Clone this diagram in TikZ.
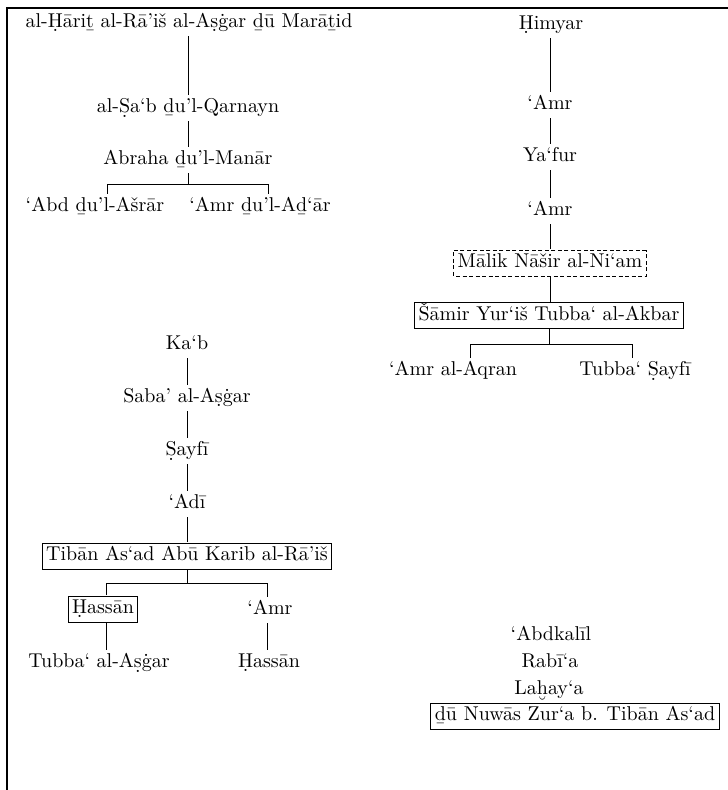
\documentclass[tikz,border=0pt]{standalone}
\newcommand{\macb}[1]{\oalign{#1\crcr\hidewidth\vbox to .2ex{\hbox{¯}\vss}\hidewidth}}
\newcommand{\dotb}[1]{\oalign{#1\crcr\hidewidth.\hidewidth}}
\newcommand{\breb}[1]{\oalign{#1\crcr\hidewidth\vbox to .2ex{\hbox{˘}\vss}\hidewidth}}
\tikzset{
  nm/.style={inner xsep=2pt, inner ysep=1.75pt, text height=7pt, text depth=2.5pt,
             font=\fontsize{10}{12}\selectfont},
  bx/.style={nm, draw, line width=0.9pt},
  dbx/.style={nm, draw, line width=0.9pt, dash pattern=on 4pt off 2.5pt},
  ln/.style={line width=1pt}
}
\begin{document}
\begin{tikzpicture}[x=0.5pt, y=-0.5pt, scale=2, transform shape]
\useasboundingbox (0,0) rectangle (728,790);
\draw[line width=1.5pt] (7,790) -- (7,8) -- (728,8);

% top left
\node[nm] (n1) at (189,23) {al-\dotb{H}āri\macb{t} al-Rā’iš al-A\dotb{s}ġar \macb{d}ū Marā\macb{t}id};
\node[nm] (n2) at (188,108) {al-\dotb{S}a‘b \macb{d}u’l-Qarnayn};
\node[nm] (n3) at (188,160) {Abraha \macb{d}u’l-Manār};
\node[nm] (n4) at (95,207) {‘Abd \macb{d}u’l-Ašrār};
\node[nm] (n5) at (260,207) {‘Amr \macb{d}u’l-A\macb{d}‘ār};
\coordinate (b1l) at (107,184);
\coordinate (b1r) at (268,184);
\draw[ln] (n1.south -| n2) -- (n2.north);
\draw[ln] (n2.south) -- (n2.south |- n3.north);
\draw[ln] (n3.south) -- (n3.south |- b1l);
\draw[ln] (b1l |- n4.north) -- (b1l) -- (b1r) -- (b1r |- n5.north);

% top right
\node[nm] (r1) at (551,25) {\dotb{H}imyar};
\node[nm] (r2) at (550,105) {‘Amr};
\node[nm] (r3) at (550,157) {Ya‘fur};
\node[nm] (r4) at (550,211) {‘Amr};
\node[dbx] (r5) at (550,263) {Mālik Nāšir al-Ni‘am};
\node[bx] (r6) at (549,315.5) {Šāmir Yur‘iš Tubba‘ al-Akbar};
\node[nm] (r7) at (453,371) {‘Amr al-Aqran};
\node[nm] (r8) at (635,371) {Tubba‘ \dotb{S}ayfī};
\coordinate (b3l) at (470,344);
\coordinate (b3r) at (632,344);
\draw[ln] (r1.south -| r2) -- (r2.north);
\draw[ln] (r2.south) -- (r2.south |- r3.north);
\draw[ln] (r3.south) -- (r3.south |- r4.north);
\draw[ln] (r4.south) -- (r4.south |- r5.north);
\draw[ln] (r5.south) -- (r5.south |- r6.north);
\draw[ln] (r6.south) -- (r6.south |- b3l);
\draw[ln] (b3l |- r7.north) -- (b3l) -- (b3r) -- (b3r |- r8.north);

% middle left
\node[nm] (m1) at (187,345) {Ka‘b};
\node[nm] (m2) at (187,398) {Saba’ al-A\dotb{s}ġar};
\node[nm] (m3) at (187,451) {\dotb{S}ayfī};
\node[nm] (m4) at (187,504) {‘Adī};
\node[bx] (m5) at (187,556) {Tibān As‘ad Abū Karib al-Rā’iš};
\node[bx] (m6) at (103,609) {\dotb{H}assān};
\node[nm] (m7) at (270,610) {‘Amr};
\node[nm] (m8) at (99,663) {Tubba‘ al-A\dotb{s}ġar};
\node[nm] (m9) at (269,663) {\dotb{H}assān};
\coordinate (b2l) at (106,583);
\coordinate (b2r) at (267,583);
\draw[ln] (m1.south) -- (m1.south |- m2.north);
\draw[ln] (m2.south) -- (m2.south |- m3.north);
\draw[ln] (m3.south) -- (m3.south |- m4.north);
\draw[ln] (m4.south) -- (m4.south |- m5.north);
\draw[ln] (m5.south) -- (m5.south |- b2l);
\draw[ln] (b2l |- m6.north) -- (b2l) -- (b2r) -- (b2r |- m7.north);
\draw[ln] (b2l |- m6.south) -- (b2l |- m8.north);
\draw[ln] (b2r |- m7.south) -- (b2r |- m9.north);

% bottom right
\node[nm] (k1) at (551,636) {‘Abdkalīl};
\node[nm] (k2) at (550,663) {Rabī‘a};
\node[nm] (k3) at (549,690) {La\breb{h}ay‘a};
\node[bx] (k4) at (575,716) {\macb{d}ū Nuwās Zur‘a b. Tibān As‘ad};
\end{tikzpicture}
\end{document}
